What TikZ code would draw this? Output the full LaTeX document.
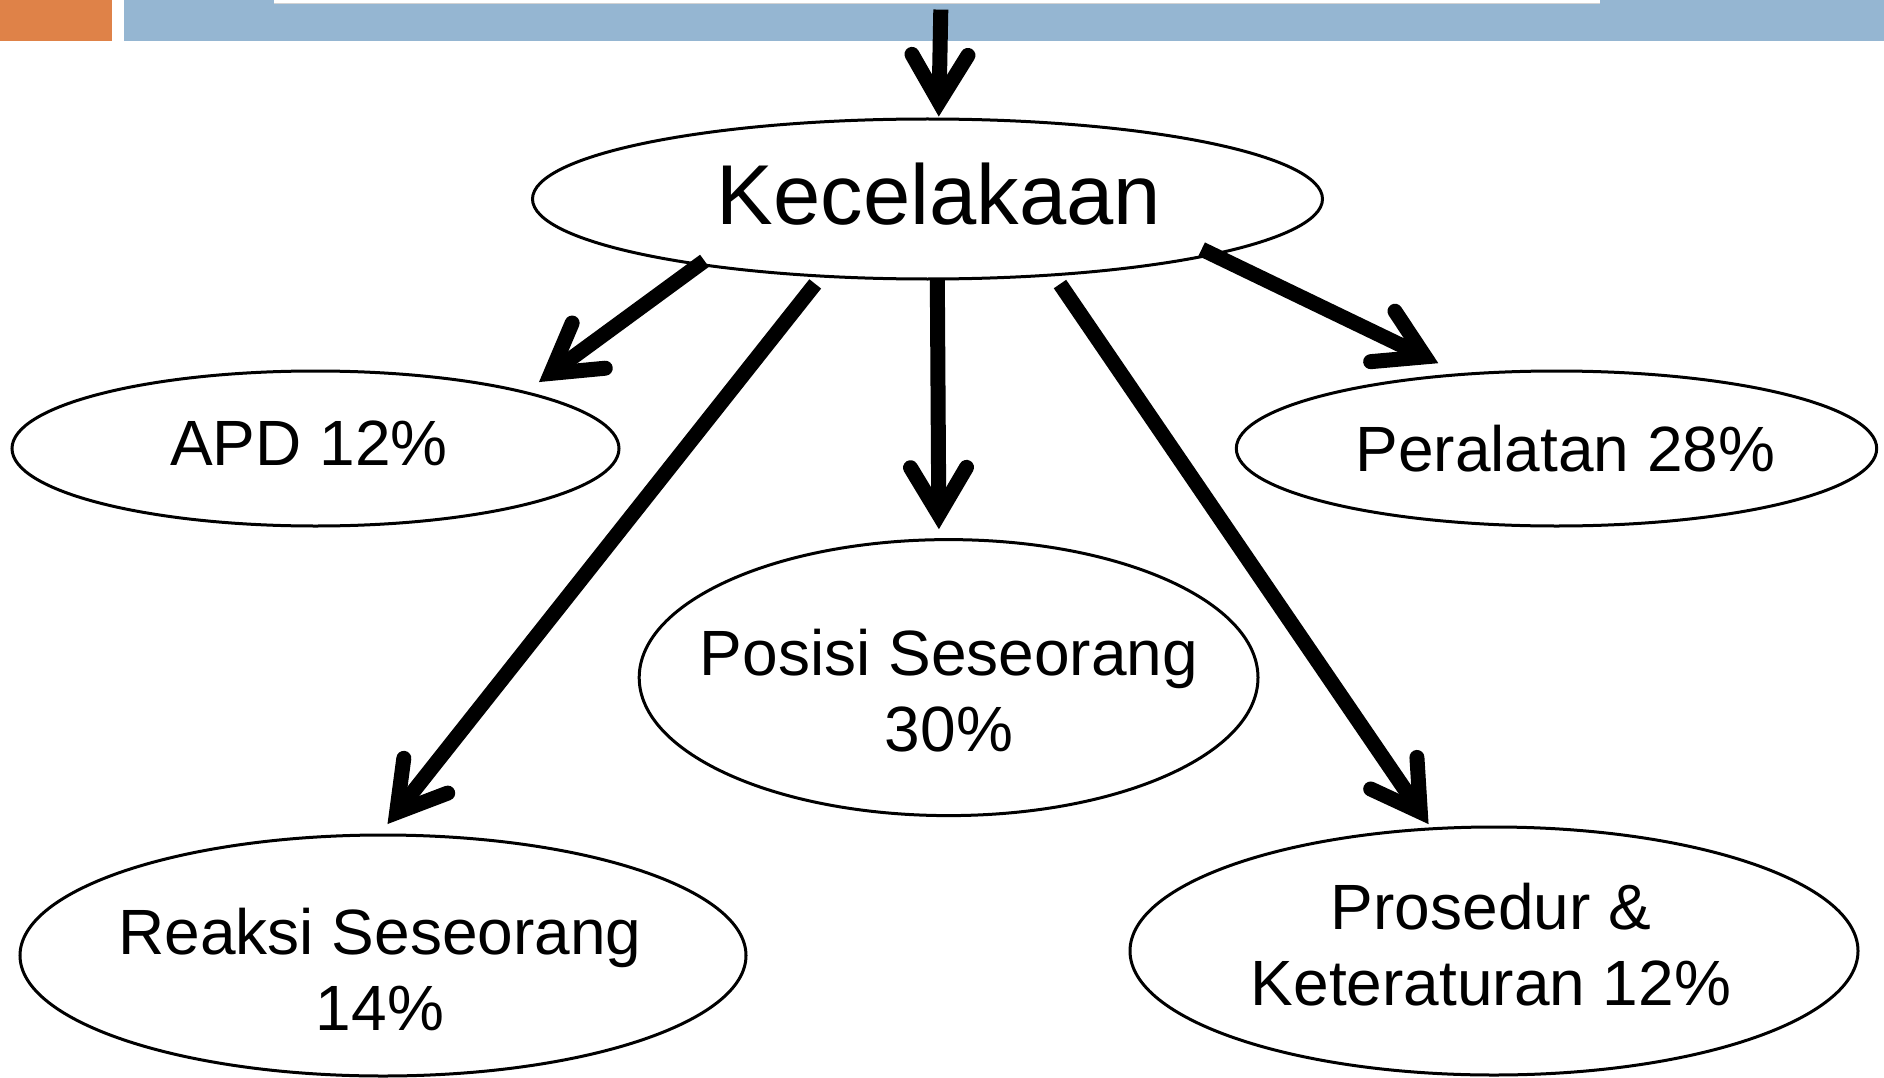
\documentclass[tikz,border=0pt]{standalone}
\usepackage{fontspec}
\setmainfont{Liberation Sans}
\usetikzlibrary{shapes.geometric,arrows.meta}
\definecolor{barorange}{HTML}{DF8248}
\definecolor{barblue}{HTML}{95B6D2}
\begin{document}
\begin{tikzpicture}[x=1pt,y=-1pt,
 oval/.style={ellipse,draw=black,line width=3pt,inner sep=0pt,outer sep=0pt},
 lbl/.style={anchor=base,inner sep=0pt,font=\fontsize{64}{76}\selectfont},
 bigarrow/.style={line width=15pt,-{Straight Barb[length=47pt,width=56pt,line cap=round,line join=miter]}}]
\useasboundingbox (0,0) rectangle (1884,1078);
% top bar
\fill[barorange] (0,0) rectangle (112,41);
\fill[barblue] (124,0) rectangle (1884,41);
\fill[white] (274,0) rectangle (1600,3.5);
\draw[gray!35,line width=0.8pt] (274,3.5) -- (1600,3.5);
% ellipses
\node[oval,minimum width=790pt,minimum height=160pt] (kec) at (927.5,199) {};
\node[oval,minimum width=607pt,minimum height=155pt] (apd) at (315.5,448.5) {};
\node[oval,minimum width=640.4pt,minimum height=155pt] (per) at (1556.5,448.5) {};
\node[oval,minimum width=618.8pt,minimum height=276pt] (pos) at (948.6,677.6) {};
\node[oval,minimum width=726pt,minimum height=241pt] (rea) at (383,955.5) {};
\node[oval,minimum width=728pt,minimum height=248pt] (pro) at (1494,951) {};
% texts
\node[lbl,font=\fontsize{85}{100}\selectfont] (kecT) at (939,225) {Kecelakaan};
\node[lbl] (apdT) at (309,465) {APD 12\%};
\node[lbl] (perT) at (1565.5,471) {Peralatan 28\%};
\node[lbl] (posT) at (949,675) {\begin{tabular}[t]{@{}c@{}}Posisi Seseorang\\30\%\end{tabular}};
\node[lbl] (reaT) at (380,954) {\begin{tabular}[t]{@{}c@{}}Reaksi Seseorang\\14\%\end{tabular}};
\node[lbl] (proT) at (1491,929) {\begin{tabular}[t]{@{}c@{}}Prosedur \&\\Keteraturan 12\%\end{tabular}};
% arrows
\coordinate (topstart) at (940.8,9.6);
\draw[bigarrow,shorten >=2.5pt] (topstart) -- (kec.82.2);
\draw[bigarrow,shorten <=-6pt,shorten >=17.5pt] (kec.196.9) -- (apd.15.3);
\draw[bigarrow,shorten <=10pt,shorten >=14pt] (kec.216.2) -- (rea.92.2);
\draw[bigarrow,shorten <=1pt,shorten >=10.5pt] (kec.277.5) -- (pos.94.4);
\draw[bigarrow,shorten <=11.2pt,shorten >=5.7pt] (kec.329.2) -- (pro.117.4);
\draw[bigarrow,shorten <=-12pt,shorten >=26pt] (kec.349.5) -- (per.142.8);
\end{tikzpicture}
\end{document}
